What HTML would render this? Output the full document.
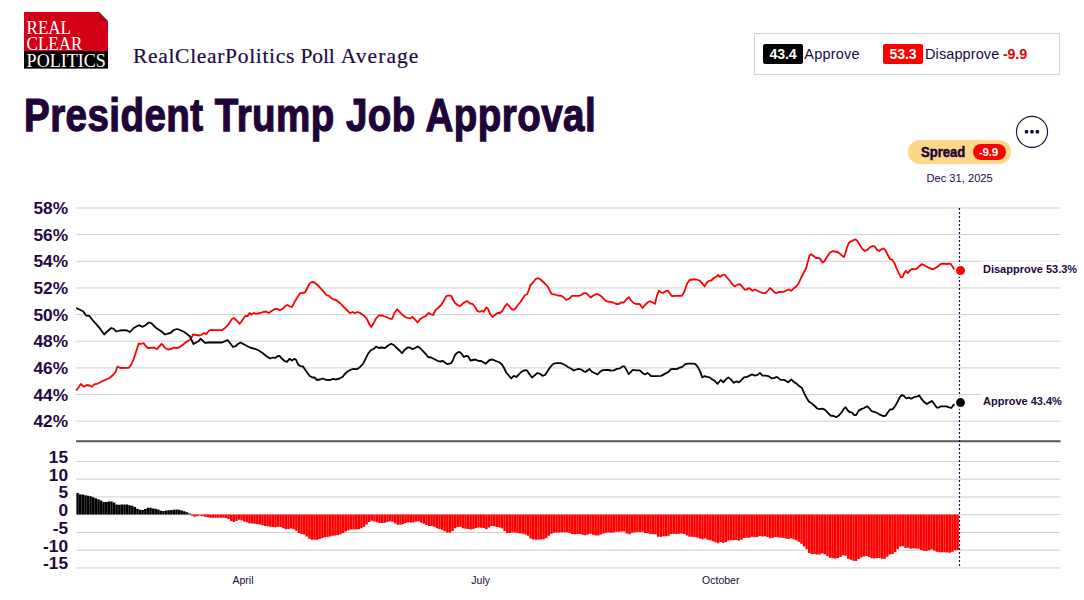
<!DOCTYPE html>
<html lang="en">
<head>
<meta charset="utf-8">
<title>President Trump Job Approval</title>
<style>
html,body{margin:0;padding:0;background:#fff;}
body{width:1084px;height:600px;position:relative;overflow:hidden;font-family:"Liberation Sans",Arial,sans-serif;color:#200a44;}
.abs{position:absolute;white-space:nowrap;}
.logo{left:24px;top:12px;width:84px;height:57px;}
.sub{left:133px;top:43.2px;font-family:"Liberation Serif","Times New Roman",serif;font-size:21.5px;line-height:26px;letter-spacing:0.68px;color:#200a44;-webkit-text-stroke:0.2px #200a44;}
.title{left:23.5px;top:88px;font-size:47px;line-height:54px;font-weight:700;color:#200438;transform-origin:0 0;transform:scaleX(0.82);letter-spacing:0.54px;-webkit-text-stroke:1.25px #200438;}
.legend{left:754px;top:33px;width:304px;height:40px;border:1px solid #d2d2d2;background:#fff;}
.badge{top:44px;height:20px;width:40px;border-radius:2px;color:#fff;font-weight:700;font-size:14.2px;line-height:20px;text-align:center;letter-spacing:-0.15px;}
.lt{top:44px;font-size:14.5px;line-height:20px;color:#200a44;}
.pill{left:908px;top:140px;width:103px;height:24px;border-radius:12px;background:#fdd888;}
.spread{left:921px;top:142px;font-size:14px;line-height:20px;font-weight:700;color:#200438;transform-origin:0 0;transform:scaleX(0.93);-webkit-text-stroke:0.5px #200438;}
.sv{left:973.1px;top:144px;width:33.2px;box-sizing:border-box;padding-right:2.6px;letter-spacing:-0.25px;height:16px;border-radius:8px;background:#ff0000;color:#fff;font-size:11.7px;font-weight:700;line-height:16px;text-align:center;}
.date{left:909.6px;width:100px;text-align:center;top:171px;font-size:11.15px;line-height:14px;color:#200a44;}
.chart{position:absolute;left:0;top:0;}
</style>
</head>
<body>
<svg class="abs logo" viewBox="0 0 84 57">
<path d="M0 0H75L84 9.2V40H0Z" fill="#d30016"/>
<path d="M75 0L84 9.2H75Z" fill="#a90014"/>
<rect x="0" y="39.2" width="84" height="17.4" fill="#000"/>
<g font-family="Liberation Serif, Times New Roman, serif" fill="#fff" font-size="19.6">
<text x="2.6" y="21.6" textLength="44.4" lengthAdjust="spacingAndGlyphs">REAL</text>
<text x="2.6" y="38.1" textLength="55.8" lengthAdjust="spacingAndGlyphs">CLEAR</text>
<text x="2.6" y="55" textLength="79.3" lengthAdjust="spacingAndGlyphs">POLITICS</text>
</g>
</svg>
<div class="abs sub" style="letter-spacing:0.68px">RealClearPolitics <span class="abs" style="left:167.6px;top:0;letter-spacing:-0.2px">Poll </span><span class="abs" style="left:207.8px;top:0;letter-spacing:1.05px">Average</span></div>
<div class="abs title">President Trump Job Approval</div>
<div class="abs legend"></div>
<div class="abs badge" style="left:763px;background:#000;">43.4</div>
<div class="abs lt" style="left:804.3px;letter-spacing:0.2px;">Approve</div>
<div class="abs badge" style="left:883px;background:#ff0000;">53.3</div>
<div class="abs lt" style="left:925px;letter-spacing:0.1px;">Disapprove <b style="color:#e60000;font-size:14.2px;letter-spacing:-0.1px;margin-left:-0.6px;">-9.9</b></div>
<div class="abs pill"></div>
<div class="abs spread">Spread</div>
<div class="abs sv">-9.9</div>
<div class="abs date">Dec 31, 2025</div>
<svg class="chart" width="1084" height="600" viewBox="0 0 1084 600">
<line x1="76" x2="1060.5" y1="208.00" y2="208.00" stroke="#cfcfcf" stroke-width="1"/>
<line x1="76" x2="1060.5" y1="234.65" y2="234.65" stroke="#cfcfcf" stroke-width="1"/>
<line x1="76" x2="1060.5" y1="261.30" y2="261.30" stroke="#cfcfcf" stroke-width="1"/>
<line x1="76" x2="1060.5" y1="287.95" y2="287.95" stroke="#cfcfcf" stroke-width="1"/>
<line x1="76" x2="1060.5" y1="314.60" y2="314.60" stroke="#cfcfcf" stroke-width="1"/>
<line x1="76" x2="1060.5" y1="341.25" y2="341.25" stroke="#cfcfcf" stroke-width="1"/>
<line x1="76" x2="1060.5" y1="367.90" y2="367.90" stroke="#cfcfcf" stroke-width="1"/>
<line x1="76" x2="1060.5" y1="394.55" y2="394.55" stroke="#cfcfcf" stroke-width="1"/>
<line x1="76" x2="1060.5" y1="421.20" y2="421.20" stroke="#cfcfcf" stroke-width="1"/>
<line x1="76" x2="1060.5" y1="461.45" y2="461.45" stroke="#cfcfcf" stroke-width="1"/>
<line x1="76" x2="1060.5" y1="479.20" y2="479.20" stroke="#cfcfcf" stroke-width="1"/>
<line x1="76" x2="1060.5" y1="496.95" y2="496.95" stroke="#cfcfcf" stroke-width="1"/>
<line x1="76" x2="1060.5" y1="514.70" y2="514.70" stroke="#cfcfcf" stroke-width="1"/>
<line x1="76" x2="1060.5" y1="532.45" y2="532.45" stroke="#cfcfcf" stroke-width="1"/>
<line x1="76" x2="1060.5" y1="550.20" y2="550.20" stroke="#cfcfcf" stroke-width="1"/>
<line x1="76" x2="1060.5" y1="567.95" y2="567.95" stroke="#cfcfcf" stroke-width="1"/>
<line x1="76" x2="1060.5" y1="441.2" y2="441.2" stroke="#555" stroke-width="2"/>
<path d="M76.40 493.10h2.4v21.30h-2.4zM79.00 494.44h2.4v19.96h-2.4zM81.61 494.49h2.4v19.91h-2.4zM84.21 495.36h2.4v19.04h-2.4zM86.81 495.87h2.4v18.53h-2.4zM89.42 496.13h2.4v18.27h-2.4zM92.02 497.19h2.4v17.21h-2.4zM94.62 498.35h2.4v16.05h-2.4zM97.23 499.36h2.4v15.04h-2.4zM99.83 500.58h2.4v13.82h-2.4zM102.44 501.88h2.4v12.52h-2.4zM105.04 501.89h2.4v12.51h-2.4zM107.64 501.56h2.4v12.84h-2.4zM110.25 501.54h2.4v12.86h-2.4zM112.85 502.50h2.4v11.90h-2.4zM115.45 504.43h2.4v9.97h-2.4zM118.06 504.63h2.4v9.77h-2.4zM120.66 504.40h2.4v10.00h-2.4zM123.26 504.42h2.4v9.98h-2.4zM125.87 504.48h2.4v9.92h-2.4zM128.47 505.15h2.4v9.25h-2.4zM131.07 505.72h2.4v8.68h-2.4zM133.68 506.94h2.4v7.46h-2.4zM136.28 508.68h2.4v5.72h-2.4zM138.89 509.64h2.4v4.76h-2.4zM141.49 509.92h2.4v4.48h-2.4zM144.09 508.99h2.4v5.41h-2.4zM146.70 507.81h2.4v6.59h-2.4zM149.30 507.80h2.4v6.60h-2.4zM151.90 508.39h2.4v6.01h-2.4zM154.51 508.79h2.4v5.61h-2.4zM157.11 509.51h2.4v4.89h-2.4zM159.71 510.82h2.4v3.58h-2.4zM162.32 511.03h2.4v3.37h-2.4zM164.92 510.55h2.4v3.85h-2.4zM167.52 510.13h2.4v4.27h-2.4zM170.13 509.95h2.4v4.45h-2.4zM172.73 509.71h2.4v4.69h-2.4zM175.33 509.39h2.4v5.01h-2.4zM177.94 509.72h2.4v4.68h-2.4zM180.54 510.46h2.4v3.94h-2.4zM183.15 511.37h2.4v3.03h-2.4zM185.75 512.37h2.4v2.03h-2.4zM188.35 513.39h2.4v1.01h-2.4z" fill="#000"/>
<path d="M190.96 514.40h2.4v1.37h-2.4zM193.56 514.40h2.4v2.28h-2.4zM196.16 514.40h2.4v1.77h-2.4zM198.77 514.40h2.4v1.10h-2.4zM201.37 514.40h2.4v1.72h-2.4zM203.97 514.40h2.4v2.38h-2.4zM206.58 514.40h2.4v2.78h-2.4zM209.18 514.40h2.4v3.32h-2.4zM211.78 514.40h2.4v3.28h-2.4zM214.39 514.40h2.4v3.26h-2.4zM216.99 514.40h2.4v3.26h-2.4zM219.60 514.40h2.4v3.26h-2.4zM222.20 514.40h2.4v3.39h-2.4zM224.80 514.40h2.4v3.70h-2.4zM227.41 514.40h2.4v4.64h-2.4zM230.01 514.40h2.4v6.52h-2.4zM232.61 514.40h2.4v7.65h-2.4zM235.22 514.40h2.4v6.72h-2.4zM237.82 514.40h2.4v5.38h-2.4zM240.42 514.40h2.4v5.78h-2.4zM243.03 514.40h2.4v7.22h-2.4zM245.63 514.40h2.4v7.94h-2.4zM248.23 514.40h2.4v9.07h-2.4zM250.84 514.40h2.4v9.09h-2.4zM253.44 514.40h2.4v9.43h-2.4zM256.04 514.40h2.4v9.66h-2.4zM258.65 514.40h2.4v10.18h-2.4zM261.25 514.40h2.4v10.87h-2.4zM263.86 514.40h2.4v11.57h-2.4zM266.46 514.40h2.4v11.88h-2.4zM269.06 514.40h2.4v12.38h-2.4zM271.67 514.40h2.4v12.60h-2.4zM274.27 514.40h2.4v12.93h-2.4zM276.87 514.40h2.4v12.43h-2.4zM279.48 514.40h2.4v12.61h-2.4zM282.08 514.40h2.4v13.81h-2.4zM284.68 514.40h2.4v14.88h-2.4zM287.29 514.40h2.4v14.49h-2.4zM289.89 514.40h2.4v14.14h-2.4zM292.49 514.40h2.4v14.80h-2.4zM295.10 514.40h2.4v16.26h-2.4zM297.70 514.40h2.4v18.71h-2.4zM300.31 514.40h2.4v19.52h-2.4zM302.91 514.40h2.4v20.10h-2.4zM305.51 514.40h2.4v22.06h-2.4zM308.12 514.40h2.4v24.31h-2.4zM310.72 514.40h2.4v25.34h-2.4zM313.32 514.40h2.4v25.31h-2.4zM315.93 514.40h2.4v25.39h-2.4zM318.53 514.40h2.4v24.59h-2.4zM321.13 514.40h2.4v23.58h-2.4zM323.74 514.40h2.4v22.92h-2.4zM326.34 514.40h2.4v22.50h-2.4zM328.94 514.40h2.4v22.10h-2.4zM331.55 514.40h2.4v21.30h-2.4zM334.15 514.40h2.4v21.22h-2.4zM336.76 514.40h2.4v20.60h-2.4zM339.36 514.40h2.4v19.76h-2.4zM341.96 514.40h2.4v18.58h-2.4zM344.57 514.40h2.4v17.08h-2.4zM347.17 514.40h2.4v15.83h-2.4zM349.77 514.40h2.4v15.16h-2.4zM352.38 514.40h2.4v14.99h-2.4zM354.98 514.40h2.4v15.04h-2.4zM357.58 514.40h2.4v14.75h-2.4zM360.19 514.40h2.4v13.76h-2.4zM362.79 514.40h2.4v12.25h-2.4zM365.39 514.40h2.4v10.07h-2.4zM368.00 514.40h2.4v7.55h-2.4zM370.60 514.40h2.4v6.31h-2.4zM373.20 514.40h2.4v7.12h-2.4zM375.81 514.40h2.4v7.88h-2.4zM378.41 514.40h2.4v8.61h-2.4zM381.02 514.40h2.4v8.56h-2.4zM383.62 514.40h2.4v8.40h-2.4zM386.22 514.40h2.4v7.58h-2.4zM388.83 514.40h2.4v6.84h-2.4zM391.43 514.40h2.4v7.23h-2.4zM394.03 514.40h2.4v9.21h-2.4zM396.64 514.40h2.4v10.36h-2.4zM399.24 514.40h2.4v10.33h-2.4zM401.84 514.40h2.4v9.73h-2.4zM404.45 514.40h2.4v8.51h-2.4zM407.05 514.40h2.4v7.85h-2.4zM409.65 514.40h2.4v8.02h-2.4zM412.26 514.40h2.4v8.21h-2.4zM414.86 514.40h2.4v7.08h-2.4zM417.47 514.40h2.4v6.98h-2.4zM420.07 514.40h2.4v8.26h-2.4zM422.67 514.40h2.4v9.37h-2.4zM425.28 514.40h2.4v10.58h-2.4zM427.88 514.40h2.4v11.71h-2.4zM430.48 514.40h2.4v11.49h-2.4zM433.09 514.40h2.4v12.44h-2.4zM435.69 514.40h2.4v13.74h-2.4zM438.29 514.40h2.4v14.58h-2.4zM440.90 514.40h2.4v15.34h-2.4zM443.50 514.40h2.4v16.87h-2.4zM446.10 514.40h2.4v18.17h-2.4zM448.71 514.40h2.4v18.11h-2.4zM451.31 514.40h2.4v16.64h-2.4zM453.91 514.40h2.4v13.80h-2.4zM456.52 514.40h2.4v12.60h-2.4zM459.12 514.40h2.4v12.43h-2.4zM461.73 514.40h2.4v13.92h-2.4zM464.33 514.40h2.4v14.46h-2.4zM466.93 514.40h2.4v14.56h-2.4zM469.54 514.40h2.4v15.15h-2.4zM472.14 514.40h2.4v14.68h-2.4zM474.74 514.40h2.4v13.62h-2.4zM477.35 514.40h2.4v13.14h-2.4zM479.95 514.40h2.4v13.27h-2.4zM482.55 514.40h2.4v13.52h-2.4zM485.16 514.40h2.4v14.77h-2.4zM487.76 514.40h2.4v13.16h-2.4zM490.36 514.40h2.4v11.69h-2.4zM492.97 514.40h2.4v11.86h-2.4zM495.57 514.40h2.4v12.70h-2.4zM498.18 514.40h2.4v13.18h-2.4zM500.78 514.40h2.4v14.19h-2.4zM503.38 514.40h2.4v16.56h-2.4zM505.99 514.40h2.4v18.57h-2.4zM508.59 514.40h2.4v18.68h-2.4zM511.19 514.40h2.4v18.05h-2.4zM513.80 514.40h2.4v17.99h-2.4zM516.40 514.40h2.4v18.72h-2.4zM519.00 514.40h2.4v18.84h-2.4zM521.61 514.40h2.4v19.41h-2.4zM524.21 514.40h2.4v20.10h-2.4zM526.81 514.40h2.4v21.35h-2.4zM529.42 514.40h2.4v24.20h-2.4zM532.02 514.40h2.4v25.13h-2.4zM534.62 514.40h2.4v25.38h-2.4zM537.23 514.40h2.4v25.26h-2.4zM539.83 514.40h2.4v25.20h-2.4zM542.44 514.40h2.4v24.78h-2.4zM545.04 514.40h2.4v23.49h-2.4zM547.64 514.40h2.4v21.39h-2.4zM550.25 514.40h2.4v19.29h-2.4zM552.85 514.40h2.4v18.47h-2.4zM555.45 514.40h2.4v18.17h-2.4zM558.06 514.40h2.4v18.02h-2.4zM560.66 514.40h2.4v17.95h-2.4zM563.26 514.40h2.4v17.73h-2.4zM565.87 514.40h2.4v17.79h-2.4zM568.47 514.40h2.4v18.65h-2.4zM571.07 514.40h2.4v19.64h-2.4zM573.68 514.40h2.4v19.79h-2.4zM576.28 514.40h2.4v19.55h-2.4zM578.89 514.40h2.4v19.66h-2.4zM581.49 514.40h2.4v20.38h-2.4zM584.09 514.40h2.4v20.96h-2.4zM586.70 514.40h2.4v20.11h-2.4zM589.30 514.40h2.4v19.34h-2.4zM591.90 514.40h2.4v20.41h-2.4zM594.51 514.40h2.4v21.14h-2.4zM597.11 514.40h2.4v21.09h-2.4zM599.71 514.40h2.4v20.02h-2.4zM602.32 514.40h2.4v19.09h-2.4zM604.92 514.40h2.4v18.35h-2.4zM607.52 514.40h2.4v18.22h-2.4zM610.13 514.40h2.4v18.24h-2.4zM612.73 514.40h2.4v17.95h-2.4zM615.33 514.40h2.4v17.34h-2.4zM617.94 514.40h2.4v17.25h-2.4zM620.54 514.40h2.4v17.18h-2.4zM623.15 514.40h2.4v17.22h-2.4zM625.75 514.40h2.4v19.18h-2.4zM628.35 514.40h2.4v19.97h-2.4zM630.96 514.40h2.4v18.42h-2.4zM633.56 514.40h2.4v17.75h-2.4zM636.16 514.40h2.4v17.71h-2.4zM638.77 514.40h2.4v17.60h-2.4zM641.37 514.40h2.4v17.34h-2.4zM643.97 514.40h2.4v18.48h-2.4zM646.58 514.40h2.4v18.87h-2.4zM649.18 514.40h2.4v19.70h-2.4zM651.78 514.40h2.4v19.55h-2.4zM654.39 514.40h2.4v19.94h-2.4zM656.99 514.40h2.4v22.30h-2.4zM659.60 514.40h2.4v22.30h-2.4zM662.20 514.40h2.4v21.82h-2.4zM664.80 514.40h2.4v21.88h-2.4zM667.41 514.40h2.4v21.40h-2.4zM670.01 514.40h2.4v19.68h-2.4zM672.61 514.40h2.4v19.44h-2.4zM675.22 514.40h2.4v19.54h-2.4zM677.82 514.40h2.4v19.25h-2.4zM680.42 514.40h2.4v19.01h-2.4zM683.03 514.40h2.4v19.54h-2.4zM685.63 514.40h2.4v21.20h-2.4zM688.23 514.40h2.4v22.26h-2.4zM690.84 514.40h2.4v22.40h-2.4zM693.44 514.40h2.4v22.48h-2.4zM696.04 514.40h2.4v23.07h-2.4zM698.65 514.40h2.4v24.03h-2.4zM701.25 514.40h2.4v24.93h-2.4zM703.86 514.40h2.4v24.14h-2.4zM706.46 514.40h2.4v25.34h-2.4zM709.06 514.40h2.4v25.91h-2.4zM711.67 514.40h2.4v26.87h-2.4zM714.27 514.40h2.4v27.81h-2.4zM716.87 514.40h2.4v28.82h-2.4zM719.48 514.40h2.4v27.60h-2.4zM722.08 514.40h2.4v28.64h-2.4zM724.68 514.40h2.4v27.48h-2.4zM727.29 514.40h2.4v26.17h-2.4zM729.89 514.40h2.4v25.88h-2.4zM732.49 514.40h2.4v25.87h-2.4zM735.10 514.40h2.4v25.59h-2.4zM737.70 514.40h2.4v26.12h-2.4zM740.31 514.40h2.4v25.06h-2.4zM742.91 514.40h2.4v23.54h-2.4zM745.51 514.40h2.4v23.29h-2.4zM748.12 514.40h2.4v23.28h-2.4zM750.72 514.40h2.4v22.42h-2.4zM753.32 514.40h2.4v22.83h-2.4zM755.93 514.40h2.4v22.49h-2.4zM758.53 514.40h2.4v21.63h-2.4zM761.13 514.40h2.4v21.99h-2.4zM763.74 514.40h2.4v21.94h-2.4zM766.34 514.40h2.4v22.64h-2.4zM768.94 514.40h2.4v23.76h-2.4zM771.55 514.40h2.4v23.37h-2.4zM774.15 514.40h2.4v22.58h-2.4zM776.76 514.40h2.4v22.73h-2.4zM779.36 514.40h2.4v23.44h-2.4zM781.96 514.40h2.4v23.47h-2.4zM784.57 514.40h2.4v23.99h-2.4zM787.17 514.40h2.4v24.63h-2.4zM789.77 514.40h2.4v23.73h-2.4zM792.38 514.40h2.4v24.82h-2.4zM794.98 514.40h2.4v25.85h-2.4zM797.58 514.40h2.4v27.37h-2.4zM800.19 514.40h2.4v29.40h-2.4zM802.79 514.40h2.4v32.14h-2.4zM805.39 514.40h2.4v34.94h-2.4zM808.00 514.40h2.4v38.67h-2.4zM810.60 514.40h2.4v39.66h-2.4zM813.20 514.40h2.4v39.69h-2.4zM815.81 514.40h2.4v40.03h-2.4zM818.41 514.40h2.4v40.12h-2.4zM821.02 514.40h2.4v39.09h-2.4zM823.62 514.40h2.4v39.74h-2.4zM826.22 514.40h2.4v41.59h-2.4zM828.83 514.40h2.4v43.31h-2.4zM831.43 514.40h2.4v43.84h-2.4zM834.03 514.40h2.4v44.01h-2.4zM836.64 514.40h2.4v43.66h-2.4zM839.24 514.40h2.4v42.49h-2.4zM841.84 514.40h2.4v40.92h-2.4zM844.45 514.40h2.4v41.25h-2.4zM847.05 514.40h2.4v44.38h-2.4zM849.65 514.40h2.4v45.46h-2.4zM852.26 514.40h2.4v46.35h-2.4zM854.86 514.40h2.4v46.69h-2.4zM857.47 514.40h2.4v44.63h-2.4zM860.07 514.40h2.4v43.08h-2.4zM862.67 514.40h2.4v42.06h-2.4zM865.28 514.40h2.4v41.63h-2.4zM867.88 514.40h2.4v42.59h-2.4zM870.48 514.40h2.4v43.89h-2.4zM873.09 514.40h2.4v44.07h-2.4zM875.69 514.40h2.4v43.50h-2.4zM878.29 514.40h2.4v43.59h-2.4zM880.90 514.40h2.4v44.40h-2.4zM883.50 514.40h2.4v44.33h-2.4zM886.10 514.40h2.4v42.43h-2.4zM888.71 514.40h2.4v40.18h-2.4zM891.31 514.40h2.4v39.72h-2.4zM893.91 514.40h2.4v37.64h-2.4zM896.52 514.40h2.4v34.79h-2.4zM899.12 514.40h2.4v32.09h-2.4zM901.73 514.40h2.4v31.75h-2.4zM904.33 514.40h2.4v33.62h-2.4zM906.93 514.40h2.4v33.30h-2.4zM909.54 514.40h2.4v34.30h-2.4zM912.14 514.40h2.4v34.16h-2.4zM914.74 514.40h2.4v34.08h-2.4zM917.35 514.40h2.4v34.33h-2.4zM919.95 514.40h2.4v35.62h-2.4zM922.55 514.40h2.4v36.43h-2.4zM925.16 514.40h2.4v36.55h-2.4zM927.76 514.40h2.4v35.92h-2.4zM930.36 514.40h2.4v35.17h-2.4zM932.97 514.40h2.4v36.01h-2.4zM935.57 514.40h2.4v37.40h-2.4zM938.18 514.40h2.4v37.87h-2.4zM940.78 514.40h2.4v37.96h-2.4zM943.38 514.40h2.4v37.97h-2.4zM945.99 514.40h2.4v38.02h-2.4zM948.59 514.40h2.4v38.29h-2.4zM951.19 514.40h2.4v37.31h-2.4zM953.80 514.40h2.4v35.97h-2.4zM956.40 514.40h2.4v35.55h-2.4z" fill="#ff0000"/>
<path d="M76.2 390.5 L78.8 387.0 L80.8 384.0 L83.8 386.8 L87.0 385.0 L89.5 385.5 L91.8 386.8 L94.5 384.2 L97.5 383.8 L101.2 381.8 L105.0 380.0 L109.5 378.0 L113.0 375.0 L115.5 372.0 L117.5 366.5 L120.5 368.0 L123.8 367.8 L128.8 367.8 L131.2 364.5 L133.8 358.8 L136.2 351.2 L138.8 343.5 L141.2 343.8 L143.8 343.2 L145.8 346.2 L148.0 348.0 L151.2 347.8 L153.8 347.5 L157.0 349.2 L159.5 346.2 L161.5 343.8 L163.2 345.5 L165.0 348.0 L168.0 349.5 L171.2 349.0 L173.8 347.5 L176.2 348.0 L178.8 347.5 L181.2 346.0 L183.8 344.0 L186.2 342.0 L189.5 340.0 L191.8 337.0 L193.0 334.5 L196.2 335.0 L199.5 335.5 L202.0 334.5 L203.8 333.2 L206.2 334.2 L208.8 330.8 L210.5 330.0 L213.8 330.2 L217.5 330.2 L222.0 330.2 L225.0 328.0 L228.8 323.8 L232.0 319.0 L233.8 318.0 L236.2 320.0 L239.5 323.8 L241.2 322.0 L243.8 318.0 L245.5 315.8 L247.5 316.2 L249.5 313.0 L251.2 314.5 L253.8 313.0 L256.2 313.8 L260.0 313.0 L263.8 311.8 L266.2 311.5 L268.8 313.0 L271.2 311.2 L274.5 309.2 L277.0 309.0 L280.0 310.2 L282.5 308.8 L285.5 305.8 L287.5 305.0 L290.0 306.5 L292.0 307.0 L295.0 301.2 L298.0 296.2 L300.0 293.2 L302.5 293.0 L305.0 292.5 L307.5 287.5 L310.0 283.0 L312.0 282.0 L314.5 282.5 L317.5 285.0 L321.2 288.8 L323.8 291.8 L326.2 295.0 L328.8 295.8 L331.2 298.0 L333.8 299.5 L336.2 300.0 L339.8 303.2 L340.0 303.0 L343.0 306.2 L346.2 309.5 L350.0 313.2 L352.5 312.0 L355.0 313.2 L357.5 312.0 L360.5 313.2 L363.8 315.5 L367.0 319.2 L369.5 324.5 L371.2 327.0 L373.2 323.8 L375.8 318.8 L378.8 315.5 L382.5 315.5 L386.2 317.0 L390.0 318.8 L392.0 318.8 L394.5 313.0 L397.0 309.2 L399.5 311.8 L402.5 315.0 L406.2 317.5 L410.0 318.5 L412.5 317.0 L415.0 319.5 L417.5 322.5 L420.0 319.2 L422.5 317.5 L425.0 316.5 L428.8 313.0 L431.2 314.5 L433.0 315.0 L435.5 310.0 L438.0 308.0 L441.2 305.0 L443.8 300.8 L446.2 296.2 L448.8 295.5 L451.2 295.8 L453.0 299.5 L455.0 303.0 L457.5 305.0 L460.0 306.2 L462.5 303.8 L465.0 302.0 L467.5 301.2 L470.0 303.5 L472.5 303.8 L475.0 307.0 L477.5 311.2 L480.0 311.8 L482.0 310.8 L483.8 311.8 L486.2 307.5 L488.0 308.8 L490.0 313.8 L492.5 317.0 L495.0 315.0 L497.5 313.0 L500.0 313.0 L502.5 310.8 L505.0 306.2 L507.0 303.8 L509.5 306.2 L512.0 309.5 L514.5 309.5 L517.5 305.5 L520.5 302.0 L523.0 298.0 L525.0 295.0 L527.0 294.5 L528.8 290.0 L530.5 285.0 L533.0 282.5 L535.5 279.2 L538.0 278.2 L540.5 279.5 L543.8 282.5 L547.5 286.2 L550.0 291.2 L552.0 294.2 L555.0 294.5 L558.0 295.5 L561.2 295.8 L563.8 297.5 L566.2 300.0 L568.8 298.8 L572.0 295.8 L575.0 295.8 L578.8 295.8 L581.2 295.0 L583.8 293.2 L586.2 293.2 L588.8 295.5 L590.5 297.5 L593.0 295.8 L595.5 294.2 L598.0 294.2 L601.2 296.2 L603.8 298.8 L606.2 301.2 L609.8 301.8 L610.0 301.8 L613.0 302.5 L616.2 304.0 L618.8 304.0 L621.2 302.5 L623.8 302.5 L626.2 299.5 L628.8 297.2 L631.2 300.5 L633.8 303.2 L636.2 304.0 L639.5 303.8 L642.5 308.0 L645.0 305.0 L647.5 302.5 L650.0 301.2 L652.5 302.5 L655.0 303.8 L656.8 296.2 L658.8 290.8 L661.2 292.5 L663.0 293.0 L665.5 291.2 L668.0 290.5 L670.0 293.8 L672.0 296.2 L675.0 295.8 L678.8 295.8 L682.0 295.8 L684.5 291.2 L687.0 283.8 L689.5 280.0 L692.5 279.5 L696.2 279.5 L699.5 280.5 L702.0 283.0 L704.5 286.5 L707.0 282.5 L708.8 280.8 L711.2 280.5 L713.8 278.0 L716.2 276.8 L718.0 275.0 L720.0 277.0 L722.5 275.0 L724.5 274.5 L727.0 277.5 L729.5 280.5 L732.0 283.8 L734.5 286.5 L737.0 285.0 L739.5 284.0 L742.0 286.2 L744.5 289.5 L747.0 289.5 L748.8 288.0 L750.5 289.0 L752.5 290.8 L755.0 289.5 L757.5 290.8 L760.0 292.0 L763.0 293.2 L765.5 293.2 L768.0 290.5 L770.0 288.0 L772.0 289.5 L773.8 291.8 L776.2 293.2 L778.8 292.0 L781.2 291.8 L783.8 291.8 L786.2 290.5 L788.8 289.5 L791.2 290.8 L793.8 288.2 L796.2 286.5 L798.8 283.0 L801.2 277.5 L803.8 272.5 L806.2 268.0 L808.0 261.2 L809.5 255.5 L811.2 254.2 L813.8 256.2 L816.2 258.0 L818.8 258.0 L820.5 259.2 L822.5 262.5 L824.5 261.2 L827.0 257.0 L830.0 252.5 L832.5 251.2 L835.0 251.5 L837.5 252.0 L840.0 253.8 L842.5 256.2 L844.0 257.0 L845.5 253.0 L847.0 247.5 L848.8 243.0 L850.0 241.9 L852.6 240.6 L855.4 239.3 L857.6 241.2 L859.8 244.9 L861.9 248.4 L864.7 251.0 L867.3 249.9 L869.9 247.3 L872.8 246.0 L874.9 246.7 L877.1 249.9 L879.2 251.0 L881.4 249.3 L883.6 248.4 L885.8 250.6 L887.9 255.3 L890.1 259.2 L892.2 259.7 L894.4 262.9 L896.6 268.3 L898.8 273.1 L900.9 277.4 L902.6 277.0 L904.2 273.1 L905.9 270.9 L907.9 273.1 L909.6 270.9 L911.8 268.8 L913.9 269.4 L916.7 268.8 L919.3 266.2 L921.9 264.0 L924.8 265.5 L927.6 267.2 L930.2 268.3 L932.3 269.4 L934.9 268.3 L937.8 266.6 L940.6 264.0 L943.2 263.6 L946.4 264.0 L948.6 263.6 L950.8 264.0 L952.5 266.6 L954.0 269.0 L960.0 270.6" fill="none" stroke="#ff0000" stroke-width="1.8" stroke-linejoin="round"/>
<path d="M76.2 308.0 L83.0 311.2 L86.2 315.5 L89.2 315.8 L92.5 320.0 L96.2 324.2 L100.5 329.2 L104.2 334.5 L107.5 331.2 L111.2 328.0 L113.8 328.8 L116.2 331.5 L120.0 330.5 L123.8 330.2 L127.0 330.5 L130.0 332.0 L133.8 328.0 L138.8 325.2 L142.5 326.8 L145.0 325.5 L148.8 322.5 L151.2 323.2 L156.2 328.0 L161.2 331.2 L165.0 334.5 L168.0 333.5 L170.5 333.0 L173.8 330.0 L177.0 329.0 L180.0 330.0 L183.8 331.8 L187.0 334.0 L190.0 336.5 L191.8 340.5 L193.5 344.0 L196.2 342.5 L198.8 341.0 L200.5 338.8 L202.5 340.5 L205.0 342.8 L208.8 342.5 L213.8 342.5 L217.5 342.5 L222.0 342.5 L225.0 341.2 L227.5 340.0 L230.0 343.0 L233.0 347.0 L235.5 346.2 L238.0 344.0 L240.5 342.5 L243.8 344.2 L247.5 346.2 L251.2 348.0 L255.0 348.8 L258.8 350.5 L262.5 353.0 L266.2 356.0 L270.0 358.5 L273.0 357.5 L275.0 358.0 L277.5 356.2 L279.5 355.8 L282.0 358.8 L285.0 361.2 L287.0 361.8 L289.5 358.8 L292.0 360.5 L294.5 358.8 L296.2 360.0 L298.0 364.5 L300.5 366.2 L303.0 366.5 L306.2 371.2 L309.5 375.8 L312.5 377.5 L314.5 377.5 L317.0 380.0 L320.0 379.5 L322.5 378.5 L326.2 379.8 L330.0 380.0 L333.0 378.8 L335.5 379.5 L339.8 378.5 L340.0 378.0 L342.5 377.0 L345.0 373.8 L348.0 371.2 L351.2 369.5 L353.8 368.8 L357.0 369.2 L360.0 367.0 L363.0 363.8 L365.5 358.8 L368.0 353.8 L370.5 350.5 L373.8 348.8 L376.2 346.5 L378.8 348.0 L381.2 347.5 L385.0 348.0 L388.0 345.5 L391.2 343.8 L393.8 345.0 L396.2 347.5 L399.5 350.5 L402.0 353.2 L404.5 350.0 L407.5 347.5 L410.0 347.5 L412.5 349.2 L415.0 348.0 L417.5 346.5 L420.0 348.0 L423.0 351.2 L426.2 354.5 L428.0 357.0 L431.2 357.5 L434.5 359.2 L437.5 360.8 L440.0 361.5 L443.0 361.0 L445.5 363.0 L447.5 364.2 L451.2 363.2 L453.0 360.0 L455.0 355.0 L457.5 352.5 L459.5 351.8 L462.0 354.2 L463.8 357.0 L466.2 355.8 L468.0 356.2 L470.5 360.5 L473.0 360.0 L475.5 359.5 L478.0 360.8 L481.2 361.0 L483.8 362.5 L485.5 363.8 L487.5 362.0 L489.5 360.0 L492.5 359.5 L495.5 360.8 L498.8 362.0 L502.0 364.5 L503.8 367.5 L506.2 372.5 L508.8 375.5 L511.2 378.5 L513.8 375.8 L516.2 377.0 L518.8 374.5 L521.2 372.0 L524.5 370.2 L527.0 370.5 L529.5 374.2 L532.0 377.5 L534.5 375.5 L537.5 373.0 L540.0 373.8 L542.5 375.8 L545.0 375.0 L547.5 371.2 L550.0 367.5 L553.0 364.0 L556.2 363.2 L561.2 363.2 L565.0 365.0 L568.0 367.0 L571.2 368.8 L573.8 370.5 L576.2 369.5 L578.8 368.8 L581.2 369.5 L583.8 371.2 L585.5 372.0 L587.5 370.5 L589.5 369.0 L592.0 371.8 L595.0 373.2 L597.5 374.5 L600.0 371.8 L602.5 370.2 L606.2 370.0 L609.8 370.0 L610.0 370.6 L613.7 370.4 L617.0 368.9 L620.0 368.4 L622.5 366.4 L624.4 366.4 L626.7 370.4 L628.7 374.1 L630.4 372.4 L632.9 369.9 L636.2 370.4 L639.9 370.4 L642.4 372.9 L644.9 374.4 L647.4 372.9 L649.4 374.4 L651.1 376.1 L654.8 376.1 L661.1 375.9 L664.8 373.9 L668.5 371.9 L671.0 369.1 L674.3 368.9 L676.8 369.1 L679.2 367.9 L682.2 366.9 L685.2 364.2 L687.7 363.7 L692.2 363.7 L695.2 363.9 L697.7 366.9 L700.2 371.6 L702.2 377.4 L704.6 376.1 L707.1 376.9 L709.6 377.4 L712.1 379.4 L714.6 380.6 L717.6 383.8 L720.8 379.9 L723.3 382.3 L725.8 379.4 L728.3 377.4 L730.8 379.4 L733.8 382.8 L736.5 381.3 L739.0 382.3 L741.5 379.9 L744.0 377.4 L747.0 376.9 L749.5 375.6 L752.0 374.4 L755.0 375.6 L757.5 374.9 L759.9 372.9 L762.4 375.6 L765.7 375.6 L768.2 376.1 L771.9 378.4 L774.4 377.9 L776.9 376.9 L780.6 379.9 L784.4 379.9 L788.1 382.3 L791.3 379.4 L794.3 382.3 L797.3 384.3 L799.8 386.6 L801.8 387.8 L803.8 392.3 L806.3 397.3 L808.8 401.5 L811.8 403.5 L814.2 405.5 L817.2 408.5 L819.7 409.2 L822.2 408.7 L824.7 409.7 L827.2 412.2 L830.4 415.5 L833.7 416.0 L836.2 417.2 L839.2 415.2 L841.6 412.2 L844.1 408.5 L845.6 407.3 L847.9 410.5 L849.6 412.2 L850.0 411.7 L852.2 412.8 L854.3 415.1 L856.1 415.1 L858.7 410.6 L861.3 409.1 L864.1 408.0 L866.9 406.3 L869.1 408.0 L871.7 411.2 L874.3 411.9 L877.1 413.0 L880.3 414.9 L883.6 416.2 L885.8 415.6 L887.9 412.3 L890.1 409.5 L892.9 409.1 L895.5 405.4 L897.7 401.5 L899.8 397.2 L902.0 395.0 L904.2 396.1 L906.3 398.5 L908.5 397.6 L911.1 398.7 L913.9 397.2 L916.7 396.7 L919.3 395.4 L921.5 398.9 L924.1 402.1 L926.9 404.1 L929.1 402.6 L931.9 400.9 L934.1 403.7 L936.7 407.6 L938.8 407.6 L941.0 406.3 L943.6 406.3 L946.4 406.3 L949.2 407.4 L951.4 408.0 L953.6 404.8 L960.0 402.6" fill="none" stroke="#050505" stroke-width="1.8" stroke-linejoin="round"/>
<circle cx="1032" cy="131.85" r="15.55" fill="#fff" stroke="#200a44" stroke-width="1.15"/>
<rect x="1024.75" y="130.05" width="3.5" height="3.5" rx="1" fill="#200a44"/>
<rect x="1030.20" y="130.05" width="3.5" height="3.5" rx="1" fill="#200a44"/>
<rect x="1035.65" y="130.05" width="3.5" height="3.5" rx="1" fill="#200a44"/>
<line x1="959.5" x2="959.5" y1="208" y2="566" stroke="#200a44" stroke-width="1.2" stroke-dasharray="2 2"/>
<rect x="981" y="261.3" width="80" height="16" fill="#fff"/>
<rect x="981" y="394.1" width="80" height="16" fill="#fff"/>
<circle cx="960.5" cy="270.6" r="5.4" fill="#ff0000" stroke="#fff" stroke-width="1.8"/>
<circle cx="960.5" cy="402.6" r="5.4" fill="#050505" stroke="#fff" stroke-width="1.8"/>
<g font-family="Liberation Sans, Arial, sans-serif" fill="#22083e">
<text x="983" y="273.4" font-size="11" font-weight="700">Disapprove 53.3%</text>
<text x="983" y="405.4" font-size="11" font-weight="700">Approve 43.4%</text>
<text x="68" y="214.0" font-size="17.3" font-weight="700" text-anchor="end">58%</text>
<text x="68" y="240.7" font-size="17.3" font-weight="700" text-anchor="end">56%</text>
<text x="68" y="267.3" font-size="17.3" font-weight="700" text-anchor="end">54%</text>
<text x="68" y="293.9" font-size="17.3" font-weight="700" text-anchor="end">52%</text>
<text x="68" y="320.6" font-size="17.3" font-weight="700" text-anchor="end">50%</text>
<text x="68" y="347.2" font-size="17.3" font-weight="700" text-anchor="end">48%</text>
<text x="68" y="373.9" font-size="17.3" font-weight="700" text-anchor="end">46%</text>
<text x="68" y="400.5" font-size="17.3" font-weight="700" text-anchor="end">44%</text>
<text x="68" y="427.2" font-size="17.3" font-weight="700" text-anchor="end">42%</text>
<text x="68.1" y="462.85" font-size="17.3" font-weight="700" text-anchor="end">15</text>
<text x="68.1" y="480.60" font-size="17.3" font-weight="700" text-anchor="end">10</text>
<text x="68.1" y="498.35" font-size="17.3" font-weight="700" text-anchor="end">5</text>
<text x="68.1" y="516.10" font-size="17.3" font-weight="700" text-anchor="end">0</text>
<text x="68.1" y="533.85" font-size="17.3" font-weight="700" text-anchor="end">-5</text>
<text x="68.1" y="551.60" font-size="17.3" font-weight="700" text-anchor="end">-10</text>
<text x="68.1" y="569.35" font-size="17.3" font-weight="700" text-anchor="end">-15</text>
<text x="243.0" y="584" font-size="10.5" text-anchor="middle">April</text>
<text x="480.7" y="584" font-size="10.5" text-anchor="middle">July</text>
<text x="720.8" y="584" font-size="10.5" text-anchor="middle">October</text>
</g>
</svg>
</body>
</html>
